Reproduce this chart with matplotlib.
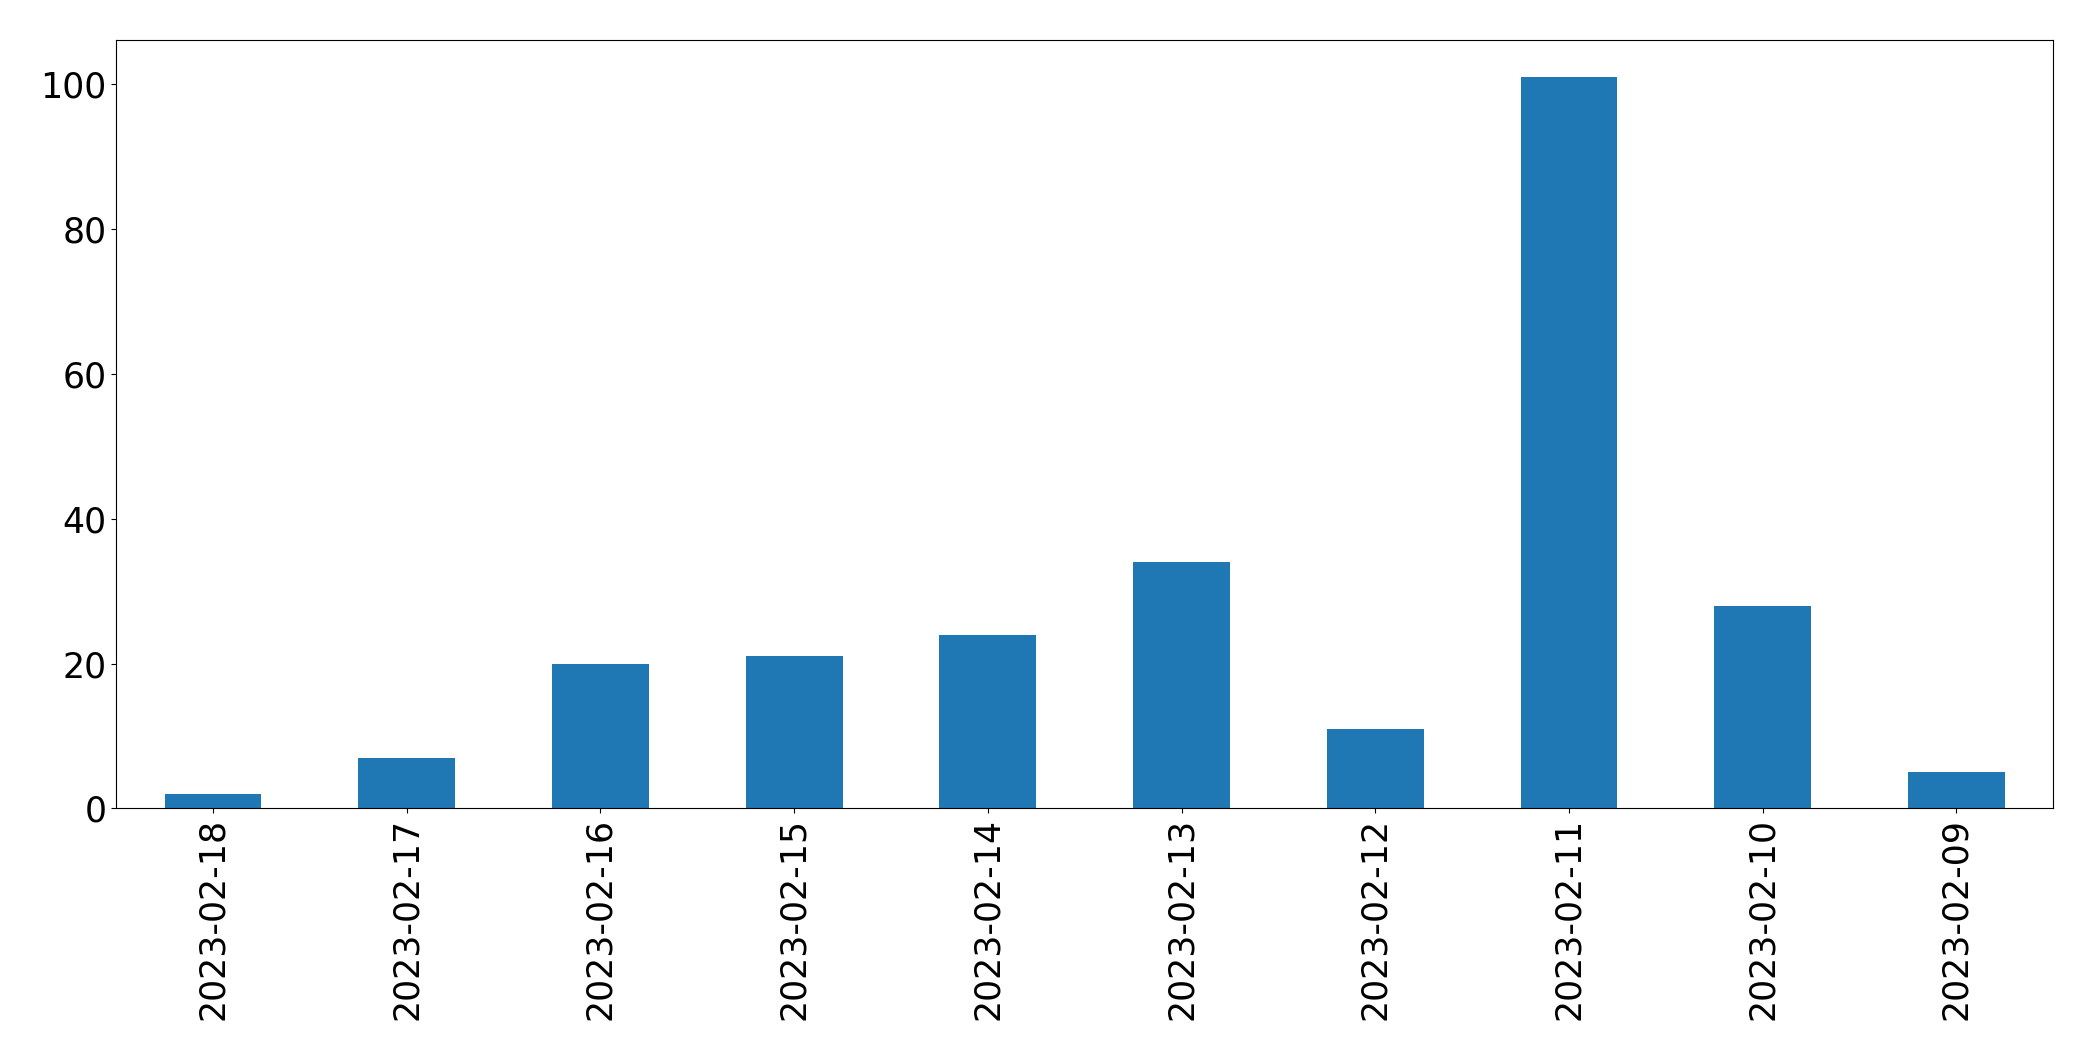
import numpy as np
import matplotlib.pyplot as plt

# dates in the order shown (newest first)
dates = ['2023-02-18', '2023-02-17', '2023-02-16', '2023-02-15', '2023-02-14',
         '2023-02-13', '2023-02-12', '2023-02-11', '2023-02-10', '2023-02-09']
counts = [2, 7, 20, 21, 24, 34, 11, 101, 28, 5]

fig = plt.figure(figsize=(20.93, 10.61), dpi=100)
ax = fig.add_axes([0.0555, 0.238, 0.9255, 0.724])

x = np.arange(len(dates))
ax.bar(x, counts, width=0.5, color='#1f77b4')
ax.set_xlim(-0.5, len(dates) - 0.5)
ax.set_ylim(0, 106)
ax.set_xticks(x)
ax.set_xticklabels(dates, rotation=90)
ax.tick_params(axis='both', labelsize=25)

fig.savefig('out.png', dpi=100)
